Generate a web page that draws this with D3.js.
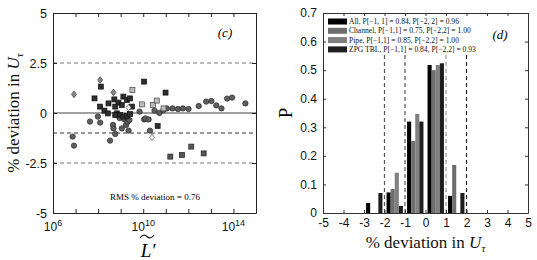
<!DOCTYPE html>
<html><head><meta charset="utf-8">
<script src="https://cdn.jsdelivr.net/npm/d3@7"></script>
<style>
body{margin:0;background:#fff;}
svg{display:block;}
.tick text{font-family:"Liberation Sans",Arial,sans-serif;}
</style></head>
<body><svg id="chart" width="537" height="260"></svg>
<script>
// ---------- Panel (c) data ----------
const circleLogL = [6.87,6.93,7.64,7.99,8.09,8.53,8.66,8.68,8.76,8.95,9.05,9.15,9.24,9.3,9.35,9.39,9.84,10.04,10.09,10.24,10.3,10.5,10.72,10.9,11.05,11.3,11.54,11.76,12.01,12.46,12.79,13.02,13.24,13.47,13.72,13.94,14.53];
const circleDev  = [-1.18,-1.63,-0.43,-0.18,-0.48,-1.38,-0.6,-0.77,-1.05,-0.25,-0.77,-0.3,-0.6,-0.45,-0.88,-0.35,0.07,-0.32,-0.27,-0.32,-0.88,0.12,0.0,0.15,0.23,0.23,0.2,0.23,0.2,0.35,0.57,0.6,0.38,0.23,0.72,0.77,0.48];
const squareLogL = [8.12,7.84,10.04,10.99,8.09,8.28,8.43,8.46,8.72,8.9,9.12,9.28,9.42,9.05,8.76,8.83,8.98,9.12,9.28,9.42,8.76,9.5,10.64];
const squareDev  = [1.32,0.73,1.57,1.02,0.32,0.12,-0.02,0.48,0.68,0.52,0.82,0.65,0.73,0.4,0.32,-0.02,-0.1,-0.18,-0.15,-0.05,-0.1,0.32,-0.65];
const graySquareLogL = [11.2,11.72,12.13,12.68];
const graySquareDev  = [-2.18,-2.1,-1.68,-2.02];
const lightSquareLogL = [9.52,9.94,10.43,10.6,10.9];
const lightSquareDev  = [1.15,0.43,0.4,0.62,0.23];
const diamondLogL = [6.93,8.09,8.68];
const diamondDev  = [0.93,1.65,1.03];
const lightDiamondLogL = [9.35,10.39];
const lightDiamondDev  = [0.27,-1.22];
const refLinesC = [2.5,-1,-2.5];
const yTicksC = [5,2.5,0,-2.5,-5];
const decades = [6,7,8,9,10,11,12,13,14,15];
const labelledDecades = [6,10,14];
const rmsText = "RMS % deviation = 0.76";

// ---------- Panel (d) data ----------
const binCenters = [-2.5,-1.5,-0.5,0.5,1.5];
const pAll     = [0.035,0.072,0.32,0.518,0.06];
const pChannel = [0,0.084,0.252,0.50,0.168];
const pPipe    = [0,0.141,0.347,0.518,0];
const pZPG     = [0.07,0.0245,0.32,0.524,0.07];
const seriesNames = ["All","Channel","Pipe","ZPG TBL"];
const legendTexts = ["All, P[\u22121, 1] = 0.84, P[\u22122, 2] = 0.96",
  "Channel, P[\u22121,1] = 0.75, P[\u22122,2] = 1.00",
  "Pipe, P[\u22121,1] = 0.85, P[\u22122,2] = 1.00",
  "ZPG TBL, P[\u22121,1] = 0.84, P[\u22122,2] = 0.93"];
const xTicksD = [-5,-4,-3,-2,-1,0,1,2,3,4,5];
const yTicksD = [0,0.1,0.2,0.3,0.4,0.5,0.6,0.7];
const vLinesD = [-2,-1,1,2];

const svg = d3.select("#chart");
const serif = "'Liberation Serif','DejaVu Serif',serif";
const sans = "'Liberation Sans',Arial,sans-serif";

// ================= Panel (c) =================
const L = {x0:53, x1:256, y0:13, y1:213};
const xC = d3.scaleLinear().domain([6,15]).range([L.x0,L.x1]);
const yC = d3.scaleLinear().domain([-5,5]).range([L.y1,L.y0]);
const gC = svg.append("g");

gC.append("line").attr("x1",L.x0).attr("x2",L.x1).attr("y1",yC(0)).attr("y2",yC(0))
  .attr("stroke","#444").attr("stroke-width",1.2);
refLinesC.forEach(v=>{
  gC.append("line").attr("x1",L.x0).attr("x2",L.x1).attr("y1",yC(v)).attr("y2",yC(v))
    .attr("stroke", v===-1?"#333":"#777").attr("stroke-width",1.1).attr("stroke-dasharray","4,3");
});

const axB = d3.axisBottom(xC).tickValues(decades).tickSizeInner(-4).tickSizeOuter(0).tickPadding(6).tickFormat(()=>"");
gC.append("g").attr("transform",`translate(0,${L.y1})`).call(axB);
gC.append("g").attr("transform",`translate(0,${L.y0})`).call(d3.axisTop(xC).tickValues(decades).tickSizeInner(-4).tickSizeOuter(0).tickFormat(()=>""));
gC.append("g").attr("transform",`translate(${L.x0},0)`).call(d3.axisLeft(yC).tickValues(yTicksC).tickSizeInner(-4).tickSizeOuter(0).tickPadding(6).tickFormat(d=>d<0?"-"+Math.abs(d):String(d)));
gC.append("g").attr("transform",`translate(${L.x1},0)`).call(d3.axisRight(yC).tickValues(yTicksC).tickSizeInner(-4).tickSizeOuter(0).tickFormat(()=>""));
gC.selectAll(".domain").attr("stroke","#222");
gC.selectAll(".tick line").attr("stroke","#222");
gC.selectAll(".tick text").attr("font-size",12.5).attr("fill","#111");

labelledDecades.forEach(d=>{
  const t = gC.append("text").attr("x",xC(d)).attr("y",L.y1+18).attr("text-anchor","middle")
    .attr("font-family",sans).attr("font-size",12).attr("fill","#111");
  t.append("tspan").text("10");
  t.append("tspan").attr("dy",-5).attr("font-size",9).text(String(d));
});

function plotCircles(xs,ys,fill,stroke){
  gC.append("g").selectAll("circle").data(xs.map((x,i)=>[x,ys[i]])).join("circle")
    .attr("cx",d=>xC(d[0])).attr("cy",d=>yC(d[1])).attr("r",2.7)
    .attr("fill",fill).attr("stroke",stroke).attr("stroke-width",0.7);
}
function plotSquares(xs,ys,fill,stroke){
  gC.append("g").selectAll("rect").data(xs.map((x,i)=>[x,ys[i]])).join("rect")
    .attr("x",d=>xC(d[0])-2.5).attr("y",d=>yC(d[1])-2.5).attr("width",5).attr("height",5)
    .attr("fill",fill).attr("stroke",stroke).attr("stroke-width",0.7);
}
function plotDiamonds(xs,ys,fill,stroke){
  gC.append("g").selectAll("path").data(xs.map((x,i)=>[x,ys[i]])).join("path")
    .attr("d",d=>{const cx=xC(d[0]),cy=yC(d[1]);return `M${cx},${cy-3.3}L${cx+2.5},${cy}L${cx},${cy+3.3}L${cx-2.5},${cy}Z`;})
    .attr("fill",fill).attr("stroke",stroke).attr("stroke-width",0.7);
}
plotCircles(circleLogL,circleDev,"#5e5e5e","#2a2a2a");
plotSquares(graySquareLogL,graySquareDev,"#555","#222");
plotSquares(squareLogL,squareDev,"#2e2e2e","#111");
plotSquares(lightSquareLogL,lightSquareDev,"#bdbdbd","#444");
plotDiamonds(diamondLogL,diamondDev,"#8a8a8a","#333");
plotDiamonds(lightDiamondLogL,lightDiamondDev,"#eeeeee","#555");

gC.append("text").attr("x",225).attr("y",37).attr("text-anchor","middle")
  .attr("font-family",serif).attr("font-style","italic").attr("font-size",13).text("(c)");
gC.append("text").attr("x",155).attr("y",200).attr("text-anchor","middle")
  .attr("font-family",serif).attr("font-size",9).text(rmsText);
const yl = gC.append("text").attr("transform",`translate(19,${(L.y0+L.y1)/2}) rotate(-90)`)
  .attr("text-anchor","middle").attr("font-family",serif).attr("font-size",17).attr("fill","#111");
yl.append("tspan").text("% deviation in ");
yl.append("tspan").attr("font-style","italic").text("U");
yl.append("tspan").attr("font-style","italic").attr("font-size",11).attr("dy",4).text("\u03c4");
// x label: L' with a drawn tilde accent
gC.append("text").attr("x",148).attr("y",257).attr("text-anchor","middle")
  .attr("font-family",serif).attr("font-style","italic").attr("font-size",19).text("L\u2032");
gC.append("path").attr("d","M140,238 C142,234.5 145,234.5 147,236.5 C149,238.5 152,238.5 154,235")
  .attr("fill","none").attr("stroke","#111").attr("stroke-width",1.1);

// ================= Panel (d) =================
const R = {x0:323, x1:528, y0:13, y1:213};
const xD = d3.scaleLinear().domain([-5,5]).range([R.x0,R.x1]);
const yD = d3.scaleLinear().domain([0,0.7]).range([R.y1,R.y0]);
const gD = svg.append("g");
const seriesVals = [pAll,pChannel,pPipe,pZPG];
const seriesColors = ["#000000","#6e6e6e","#808080","#1e1e1e"];

const vColors = {"-2":"#555","-1":"#555","1":"#999","2":"#222"};
vLinesD.forEach(v=>{
  gD.append("line").attr("x1",xD(v)).attr("x2",xD(v)).attr("y1",yD(0)).attr("y2",yD(0.553))
    .attr("stroke",vColors[String(v)]).attr("stroke-width",1.2).attr("stroke-dasharray","4,3");
});

seriesVals.forEach((vals,i)=>{
  gD.append("g").selectAll("rect").data(binCenters.map((c,j)=>[c,vals[j]]).filter(d=>d[1]>0)).join("rect")
    .attr("x",d=>xD(d[0]-0.4+0.2*i)).attr("width",d=>xD(d[0]-0.2+0.2*i)-xD(d[0]-0.4+0.2*i))
    .attr("y",d=>yD(d[1])).attr("height",d=>yD(0)-yD(d[1]))
    .attr("fill",seriesColors[i]);
});

gD.append("g").attr("transform",`translate(0,${R.y1})`).call(d3.axisBottom(xD).tickValues(xTicksD).tickSizeInner(-3).tickSizeOuter(0).tickPadding(5).tickFormat(d=>d<0?"-"+Math.abs(d):String(d)));
gD.append("g").attr("transform",`translate(0,${R.y0})`).call(d3.axisTop(xD).tickValues(xTicksD).tickSizeInner(-3).tickSizeOuter(0).tickFormat(()=>""));
gD.append("g").attr("transform",`translate(${R.x0},0)`).call(d3.axisLeft(yD).tickValues(yTicksD).tickSizeInner(-3).tickSizeOuter(0).tickPadding(6).tickFormat(d=>d===0?"0":d3.format(".1f")(d)));
gD.append("g").attr("transform",`translate(${R.x1},0)`).call(d3.axisRight(yD).tickValues(yTicksD).tickSizeInner(-3).tickSizeOuter(0).tickFormat(()=>""));
gD.selectAll(".domain").attr("stroke","#333");
gD.selectAll(".tick line").attr("stroke","#333");
gD.selectAll(".tick text").attr("font-size",12).attr("fill","#111");

legendTexts.forEach((t,i)=>{
  const cy = 21.5 + i*9.3;
  gD.append("rect").attr("x",328).attr("y",cy-3).attr("width",19).attr("height",6).attr("fill",seriesColors[i]);
  gD.append("text").attr("x",349).attr("y",cy+2.6).attr("font-family",serif).attr("font-size",7.6).attr("fill","#111").text(t);
});
gD.append("text").attr("x",500).attr("y",39).attr("text-anchor","middle")
  .attr("font-family",serif).attr("font-style","italic").attr("font-size",13).text("(d)");

gD.append("text").attr("transform",`translate(292,${(R.y0+R.y1)/2}) rotate(-90)`)
  .attr("text-anchor","middle").attr("font-family",serif).attr("font-size",19).text("P");
const xl = gD.append("text").attr("x",(R.x0+R.x1)/2).attr("y",248).attr("text-anchor","middle")
  .attr("font-family",serif).attr("font-size",17).attr("fill","#111");
xl.append("tspan").text("% deviation in ");
xl.append("tspan").attr("font-style","italic").text("U");
xl.append("tspan").attr("font-style","italic").attr("font-size",11).attr("dy",4).text("\u03c4");
</script></body></html>
